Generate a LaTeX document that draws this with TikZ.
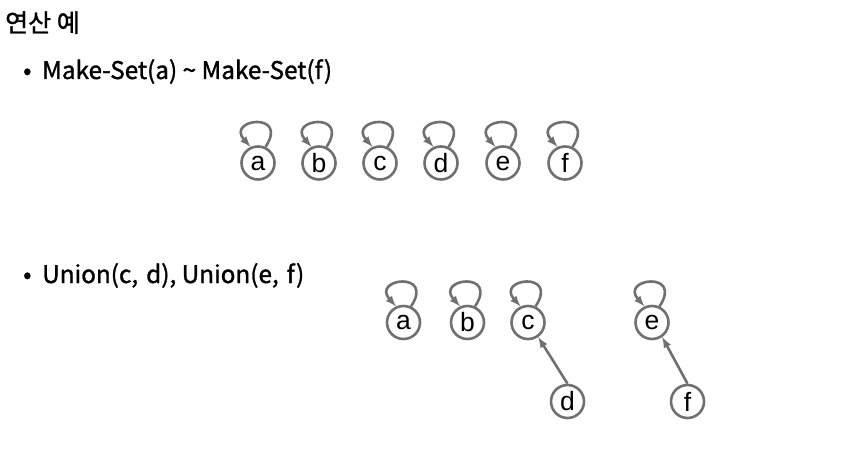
\documentclass[tikz,border=0pt]{standalone}
\usepackage{fontspec}
\setmainfont[FakeBold=1.3]{Noto Sans CJK KR}
\newfontfamily\letterfont{Liberation Sans}
\usetikzlibrary{arrows}
\definecolor{slate}{RGB}{112, 112, 112}

\tikzset{
  elem/.style={circle, draw=slate, line width=2.6pt, minimum size=33pt, inner sep=0pt,
               font=\letterfont\fontsize{26.5}{26.5}\selectfont},
  link/.style={draw=slate, line width=2.6pt, -latex},
  selfloop/.style={link, to path={.. controls +(24,36) and +(-25,28) .. (\tikztotarget)}},
  heading/.style={anchor=base west, inner sep=0pt, font=\fontsize{25}{25}\selectfont},
  item/.style={anchor=base west, inner sep=0pt, font=\fontsize{24.3}{25}\selectfont}
}

\begin{document}
\begin{tikzpicture}[x=1pt, y=1pt]
  % Frame to fix the page size:
  \useasboundingbox (0,0) rectangle (856,-468);
  % Titles
  \node[heading] (title) at (5,-32) {연산 예};
  \node[item] (bulA) at (23,-79) {•};
  \node[item] (txtA) at (42,-79) {Make-Set(a) \char`\~{} Make-Set(f)};
  \node[item] (bulB) at (23,-283) {•};
  \node[item] (txtB) at (42,-283) {Union(c,\,\,d), Union(e,\,\,f)};
  % Make-Set row
  \foreach \n/\x in {a/258, b/319, c/380, d/441, e/503, f/565} {
    \node[elem] (m\n) at (\x,-163) {\n};
    \draw[selfloop] (m\n.65) to (m\n.115);
  }
  % Union row
  \node[elem] (ua) at (403.5,-322.5) {a};
  \node[elem] (ub) at (467.5,-322.5) {b};
  \node[elem] (uc) at (528,-322.5)   {c};
  \node[elem] (ue) at (652,-322.5)   {e};
  \node[elem] (ud) at (567.5,-401.5) {d};
  \node[elem] (uf) at (687.5,-401.5) {f};
  \foreach \n in {ua, ub, uc, ue}
    \draw[selfloop] (\n.65) to (\n.115);
  \draw[link] (ud.north) -- (uc.-55);
  \draw[link] (uf.north) -- (ue.-55);
\end{tikzpicture}
\end{document}
